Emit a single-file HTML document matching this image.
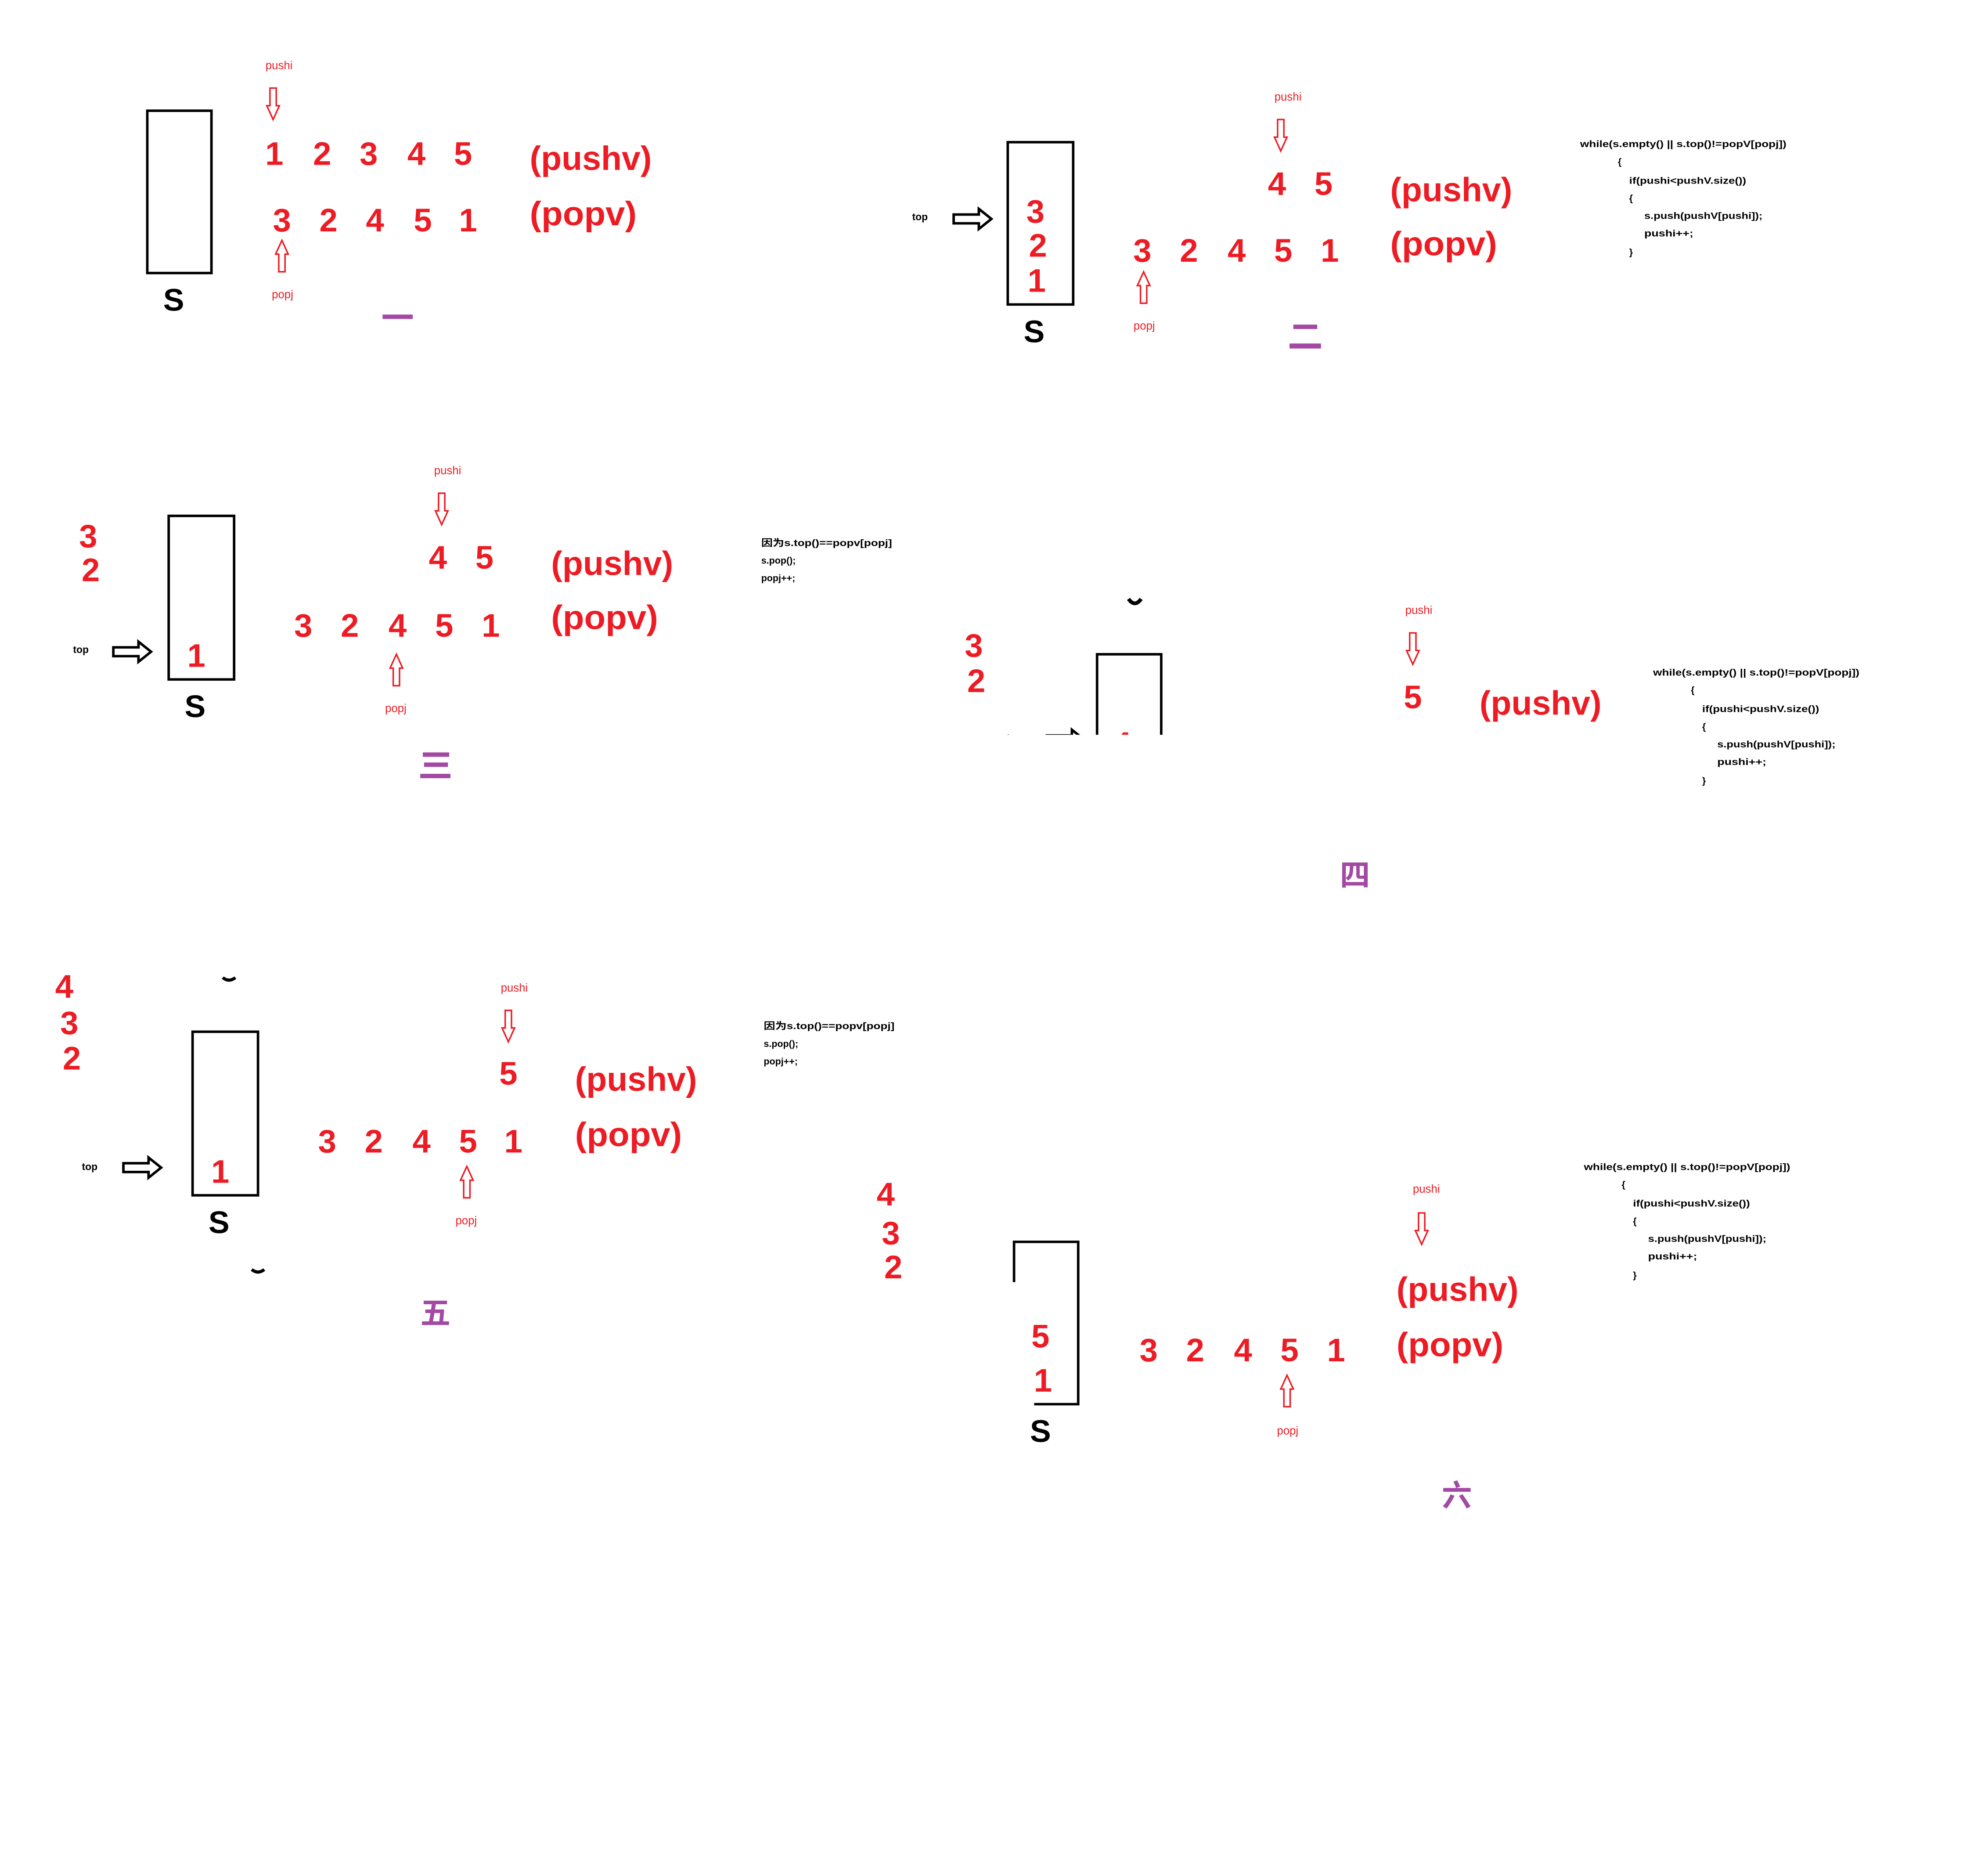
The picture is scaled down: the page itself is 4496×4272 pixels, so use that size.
<!DOCTYPE html>
<html><head><meta charset="utf-8"><style>
html,body{margin:0;padding:0;background:#fff;}
svg{display:block;}
.r{fill:#ed1c24;font-family:"Liberation Sans",sans-serif;font-weight:bold;}
.n{font-size:26px;text-anchor:middle;}
.p{font-size:27px;}
.s{font-size:9px;font-weight:normal;}
.k{fill:#000;font-family:"Liberation Sans",sans-serif;font-weight:bold;}
.S{font-size:25px;text-anchor:middle;}
.c{fill:#000;font-family:"Liberation Sans","Noto Sans CJK SC",sans-serif;font-size:7.5px;font-weight:bold;}
.t{fill:#000;font-family:"Liberation Sans",sans-serif;font-size:8px;font-weight:bold;}
.pu{fill:#a349a4;font-family:"Liberation Sans","Noto Sans CJK SC",sans-serif;font-weight:bold;font-size:24px;text-anchor:middle;}
.box{fill:none;stroke:#000;stroke-width:2;}
.da{fill:#fff;stroke:#ed1c24;stroke-width:1.2;}
.ra{fill:#fff;stroke:#000;stroke-width:2;}
</style></head><body>
<svg width="4496" height="4272" viewBox="0 0 1569 1491" xmlns="http://www.w3.org/2000/svg">
<defs>
<path id="dn" d="M-2.5,0 H2.5 V14 H5 L0,25 L-5,14 H-2.5 Z"/>
<path id="rt" d="M0,-3.5 H20 V-8 L30,0 L20,8 V3.5 H0 Z"/>
<clipPath id="cp4"><rect x="700" y="0" width="400" height="584"/></clipPath>
</defs>

<!-- Panel 1 -->
<rect class="box" x="117" y="88" width="51" height="129"/>
<text class="k S" x="138" y="247">S</text>
<text class="r s" x="211" y="55">pushi</text>
<use href="#dn" class="da" transform="translate(217,70)"/>
<g class="r n"><text x="218" y="131">1</text><text x="256" y="131">2</text><text x="293" y="131">3</text><text x="331" y="131">4</text><text x="368" y="131">5</text>
<text x="224" y="184">3</text><text x="261" y="184">2</text><text x="298" y="184">4</text><text x="336" y="184">5</text><text x="372" y="184">1</text></g>
<text class="r p" x="421" y="135" textLength="97" lengthAdjust="spacingAndGlyphs">(pushv)</text>
<text class="r p" x="421" y="179" textLength="85" lengthAdjust="spacingAndGlyphs">(popv)</text>
<use href="#dn" class="da" transform="translate(224,216) scale(1,-1)"/>
<text class="r s" x="216" y="237">popj</text>
<rect x="304" y="250" width="24" height="3.5" fill="#a349a4"/>

<!-- Panel 2 -->
<rect class="box" x="801" y="113" width="52" height="129"/>
<text class="t" x="725" y="175">top</text>
<use href="#rt" class="ra" transform="translate(758,174)"/>
<g class="r n"><text x="823" y="177">3</text><text x="825" y="204">2</text><text x="824" y="232">1</text></g>
<text class="k S" x="822" y="272">S</text>
<text class="r s" x="1013" y="80">pushi</text>
<use href="#dn" class="da" transform="translate(1018,95)"/>
<g class="r n"><text x="1015" y="155">4</text><text x="1052" y="155">5</text>
<text x="908" y="208">3</text><text x="945" y="208">2</text><text x="983" y="208">4</text><text x="1020" y="208">5</text><text x="1057" y="208">1</text></g>
<text class="r p" x="1105" y="160" textLength="97" lengthAdjust="spacingAndGlyphs">(pushv)</text>
<text class="r p" x="1105" y="203" textLength="85" lengthAdjust="spacingAndGlyphs">(popv)</text>
<use href="#dn" class="da" transform="translate(909,241) scale(1,-1)"/>
<text class="r s" x="901" y="262">popj</text>
<rect x="1028" y="258" width="19" height="3.5" fill="#a349a4"/>
<rect x="1025" y="273" width="25" height="4" fill="#a349a4"/>
<g class="c">
<text x="1256" y="117" textLength="164" lengthAdjust="spacingAndGlyphs">while(s.empty() || s.top()!=popV[popj])</text>
<text x="1286" y="131">{</text>
<text x="1295" y="146" textLength="93" lengthAdjust="spacingAndGlyphs">if(pushi&lt;pushV.size())</text>
<text x="1295" y="160">{</text>
<text x="1307" y="174" textLength="94" lengthAdjust="spacingAndGlyphs">s.push(pushV[pushi]);</text>
<text x="1307" y="188" textLength="39" lengthAdjust="spacingAndGlyphs">pushi++;</text>
<text x="1295" y="203">}</text>
</g>

<!-- Panel 3 -->
<g class="r n"><text x="70" y="435">3</text><text x="72" y="462">2</text></g>
<rect class="box" x="134" y="410" width="52" height="130"/>
<text class="t" x="58" y="519">top</text>
<use href="#rt" class="ra" transform="translate(90,518)"/>
<text class="r n" x="156" y="530">1</text>
<text class="k S" x="155" y="570">S</text>
<text class="r s" x="345" y="377">pushi</text>
<use href="#dn" class="da" transform="translate(351,392)"/>
<g class="r n"><text x="348" y="452">4</text><text x="385" y="452">5</text>
<text x="241" y="506">3</text><text x="278" y="506">2</text><text x="316" y="506">4</text><text x="353" y="506">5</text><text x="390" y="506">1</text></g>
<text class="r p" x="438" y="457" textLength="97" lengthAdjust="spacingAndGlyphs">(pushv)</text>
<text class="r p" x="438" y="500" textLength="85" lengthAdjust="spacingAndGlyphs">(popv)</text>
<use href="#dn" class="da" transform="translate(315,545) scale(1,-1)"/>
<text class="r s" x="306" y="566">popj</text>
<rect x="336" y="598" width="21" height="3.5" fill="#a349a4"/>
<rect x="337" y="606" width="19" height="3.5" fill="#a349a4"/>
<rect x="334" y="615" width="24" height="3.5" fill="#a349a4"/>
<g class="c">
<text x="605" y="434" textLength="104" lengthAdjust="spacingAndGlyphs">因为s.top()==popv[popj]</text>
<text x="605" y="448">s.pop();</text>
<text x="605" y="462">popj++;</text>
</g>

<!-- Panel 4 -->
<g class="r n"><text x="774" y="522">3</text><text x="776" y="550">2</text></g>
<path d="M897,476 Q902,483 907,476" stroke="#000" stroke-width="3" fill="none"/>
<g clip-path="url(#cp4)">
<rect class="box" x="872" y="520" width="51" height="129"/>
<text class="t" x="800" y="589">top</text>
<use href="#rt" class="ra" transform="translate(832,588)"/>
<text class="r n" x="892" y="600">4</text>
</g>
<text class="r s" x="1117" y="488">pushi</text>
<use href="#dn" class="da" transform="translate(1123,503)"/>
<text class="r n" x="1123" y="563">5</text>
<text class="r p" x="1176" y="568" textLength="97" lengthAdjust="spacingAndGlyphs">(pushv)</text>
<g class="c">
<text x="1314" y="537" textLength="164" lengthAdjust="spacingAndGlyphs">while(s.empty() || s.top()!=popV[popj])</text>
<text x="1344" y="551">{</text>
<text x="1353" y="566" textLength="93" lengthAdjust="spacingAndGlyphs">if(pushi&lt;pushV.size())</text>
<text x="1353" y="580">{</text>
<text x="1365" y="594" textLength="94" lengthAdjust="spacingAndGlyphs">s.push(pushV[pushi]);</text>
<text x="1365" y="608" textLength="39" lengthAdjust="spacingAndGlyphs">pushi++;</text>
<text x="1353" y="623">}</text>
</g>
<text class="pu" x="1077" y="704">四</text>

<!-- Panel 5 -->
<g class="r n"><text x="51" y="793">4</text><text x="55" y="822">3</text><text x="57" y="850">2</text></g>
<path d="M177,777 Q182,781 187,777" stroke="#000" stroke-width="2.5" fill="none"/>
<path d="M200,1009 Q205,1013 210,1009" stroke="#000" stroke-width="2.5" fill="none"/>
<rect class="box" x="153" y="820" width="52" height="130"/>
<text class="t" x="65" y="930">top</text>
<use href="#rt" class="ra" transform="translate(98,928)"/>
<text class="r n" x="175" y="940">1</text>
<text class="k S" x="174" y="980">S</text>
<text class="r s" x="398" y="788">pushi</text>
<use href="#dn" class="da" transform="translate(404,803)"/>
<g class="r n"><text x="404" y="862">5</text>
<text x="260" y="916">3</text><text x="297" y="916">2</text><text x="335" y="916">4</text><text x="372" y="916">5</text><text x="408" y="916">1</text></g>
<text class="r p" x="457" y="867" textLength="97" lengthAdjust="spacingAndGlyphs">(pushv)</text>
<text class="r p" x="457" y="911" textLength="85" lengthAdjust="spacingAndGlyphs">(popv)</text>
<use href="#dn" class="da" transform="translate(371,952) scale(1,-1)"/>
<text class="r s" x="362" y="973">popj</text>
<text class="pu" x="346" y="1052">五</text>
<g class="c">
<text x="607" y="818" textLength="104" lengthAdjust="spacingAndGlyphs">因为s.top()==popv[popj]</text>
<text x="607" y="832">s.pop();</text>
<text x="607" y="846">popj++;</text>
</g>

<!-- Panel 6 -->
<g class="r n"><text x="704" y="958">4</text><text x="708" y="989">3</text><text x="710" y="1016">2</text></g>
<path d="M806,1019 V987 H857 V1116 H822" class="box"/>
<g class="r n"><text x="827" y="1071">5</text><text x="829" y="1106">1</text></g>
<text class="k S" x="827" y="1146">S</text>
<text class="r s" x="1123" y="948">pushi</text>
<use href="#dn" class="da" transform="translate(1130,964)"/>
<text class="r p" x="1110" y="1034" textLength="97" lengthAdjust="spacingAndGlyphs">(pushv)</text>
<text class="r p" x="1110" y="1078" textLength="85" lengthAdjust="spacingAndGlyphs">(popv)</text>
<g class="r n"><text x="913" y="1082">3</text><text x="950" y="1082">2</text><text x="988" y="1082">4</text><text x="1025" y="1082">5</text><text x="1062" y="1082">1</text></g>
<use href="#dn" class="da" transform="translate(1023,1118) scale(1,-1)"/>
<text class="r s" x="1015" y="1140">popj</text>
<text class="pu" x="1158" y="1197">六</text>
<g class="c">
<text x="1259" y="930" textLength="164" lengthAdjust="spacingAndGlyphs">while(s.empty() || s.top()!=popV[popj])</text>
<text x="1289" y="944">{</text>
<text x="1298" y="959" textLength="93" lengthAdjust="spacingAndGlyphs">if(pushi&lt;pushV.size())</text>
<text x="1298" y="973">{</text>
<text x="1310" y="987" textLength="94" lengthAdjust="spacingAndGlyphs">s.push(pushV[pushi]);</text>
<text x="1310" y="1001" textLength="39" lengthAdjust="spacingAndGlyphs">pushi++;</text>
<text x="1298" y="1016">}</text>
</g>
</svg>
</body></html>
